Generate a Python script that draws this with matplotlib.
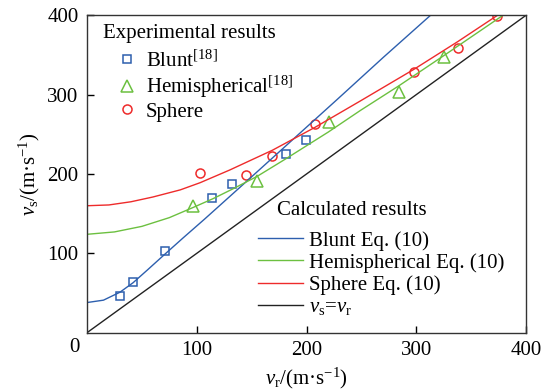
import numpy as np
import matplotlib
matplotlib.use("Agg")
import matplotlib.pyplot as plt

plt.rcParams['font.family'] = ['Liberation Serif', 'DejaVu Serif']
plt.rcParams['mathtext.fontset'] = 'custom'
plt.rcParams['mathtext.rm'] = 'Liberation Serif'
plt.rcParams['mathtext.it'] = 'Liberation Serif:italic'
plt.rcParams['font.size'] = 15

# experimental points (v_r, v_s) in m/s
blunt_vr = [30, 42, 71.5, 113.6, 132.4, 181, 199.5]
blunt_vs = [46, 64, 103.5, 169.4, 187.8, 225, 242.5]
hemi_vr = [97, 155, 220.5, 284.3, 325.6]
hemi_vs = [160, 191.6, 266, 303.7, 347.8]
sphere_vr = [102.7, 145.2, 168.8, 207.7, 298.3, 337.8, 373.3]
sphere_vs = [201.3, 199.1, 223, 263.4, 329, 359.2, 399]

# Eq. (10) curves
blunt_eq_vr = [0, 15, 30, 42, 55, 71, 88, 107, 140, 180, 228, 270, 313]
blunt_eq_vs = [38, 41, 51, 63, 79, 99, 120, 143, 184, 234, 294, 347, 400]
hemi_eq_vr = [0, 25, 50, 75, 97, 115, 134, 155, 181, 220, 249, 284, 326, 379]
hemi_eq_vs = [124, 127, 134, 145, 158, 169, 182, 197, 219, 253, 280, 311, 350, 400]
sphere_eq_vr = [0, 20, 40, 60, 85, 103, 130, 169, 208, 249, 298, 338, 374]
sphere_eq_vs = [160, 161, 165, 171, 180, 189, 205, 230, 259, 292, 332, 367, 400]
equal_v = [0, 400]

c_blue = '#2d5fae'
c_green = '#6cc040'
c_red = '#ee2b2b'

fig = plt.figure(figsize=(5.46, 3.90), dpi=100)
ax = fig.add_axes([87/546, 1-332.7/390, 439/546, 317.4/390])

p1, = ax.plot(blunt_vr, blunt_vs, 's', mfc='none', mec=c_blue, ms=5.5, mew=1.1)
p2, = ax.plot(hemi_vr, hemi_vs, '^', mfc='none', mec=c_green, ms=8.5, mew=1.1)
p3, = ax.plot(sphere_vr, sphere_vs, 'o', mfc='none', mec=c_red, ms=6.5, mew=1.1)

l1, = ax.plot(blunt_eq_vr, blunt_eq_vs, color=c_blue, lw=1.0)
l2, = ax.plot(hemi_eq_vr, hemi_eq_vs, color=c_green, lw=1.0)
l3, = ax.plot(sphere_eq_vr, sphere_eq_vs, color=c_red, lw=1.0)
l4, = ax.plot(equal_v, equal_v, color='#222222', lw=1.0)

ax.set_xlim(0, 400)
ax.set_ylim(0, 400)
ax.set_xticks([100, 200, 300, 400])
ax.set_yticks([100, 200, 300, 400])
ax.tick_params(direction='in', length=5, width=1, pad=6)
for s in ax.spines.values():
    s.set_linewidth(1.0)
    s.set_color('#333333')

ax.set_xlabel(r'$v_\mathrm{r}$/(m·s$^{-1}$)', labelpad=4)
ax.set_ylabel(r'$v_\mathrm{s}$/(m·s$^{-1}$)', labelpad=4)
fig.text(74/546, 1-347/390, '0', ha='center', va='center')

ax.text(0.0364, 0.942, 'Experimental results', transform=ax.transAxes,
        ha='left', va='center')
leg1 = ax.legend([p1, p2, p3],
                 [r'Blunt$^{[18]}$', r'Hemispherical$^{[18]}$', 'Sphere'],
                 loc='upper left', bbox_to_anchor=(0.0624, 0.889),
                 frameon=False, borderpad=0, borderaxespad=0,
                 handlelength=1.2, handletextpad=0.3, labelspacing=0.1)
ax.add_artist(leg1)

ax.text(0.433, 0.384, 'Calculated results', transform=ax.transAxes,
        ha='left', va='center')
ax.legend([l1, l2, l3, l4],
          ['Blunt Eq. (10)', 'Hemispherical Eq. (10)', 'Sphere Eq. (10)',
           r'$v_\mathrm{s}$=$v_\mathrm{r}$'],
          loc='upper left', bbox_to_anchor=(0.3895, 0.321),
          frameon=False, borderpad=0, borderaxespad=0,
          handlelength=2.15, handletextpad=0.3, labelspacing=0.12)

fig.savefig('out.png', dpi=100)
